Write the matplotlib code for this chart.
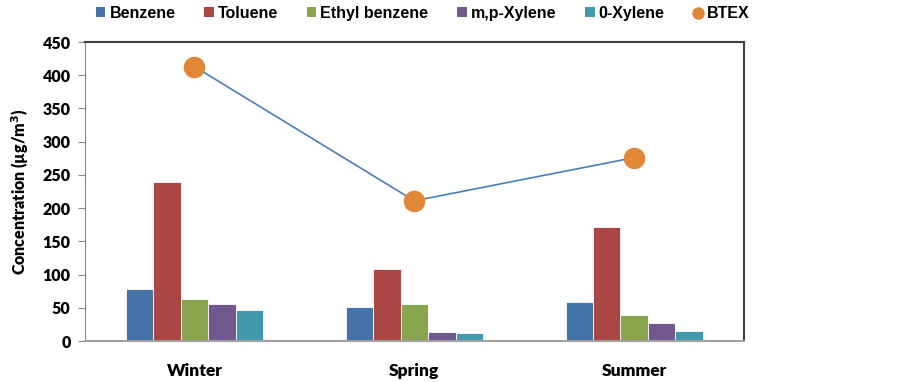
import numpy as np
import matplotlib
matplotlib.use('Agg')
import matplotlib.pyplot as plt
from matplotlib.lines import Line2D
from matplotlib.patches import Patch

seasons = ['Winter', 'Spring', 'Summer']
compounds = ['Benzene', 'Toluene', 'Ethyl benzene', 'm,p-Xylene', '0-Xylene']
benzene = [78.5, 51, 58]
toluene = [240, 109, 171]
ethyl_benzene = [62.5, 56, 39]
mp_xylene = [55, 14, 27.5]
o_xylene = [46.5, 11.5, 15.5]
btex = [413, 211, 276]

colors = ['#4572A7', '#AA4643', '#89A54E', '#71588F', '#4198AF']
plt.rcParams['font.family'] = ['Lato', 'DejaVu Sans']

fig = plt.figure(figsize=(9.03, 3.82), dpi=100)
ax = fig.add_axes([0.0936, 0.1073, 0.7305, 0.7827])

x = np.arange(len(seasons))
w = 0.125
series = [benzene, toluene, ethyl_benzene, mp_xylene, o_xylene]
for i, vals in enumerate(series):
    ax.bar(x + (i - 2) * w, vals, width=w, color=colors[i],
           edgecolor='white', linewidth=0.6, zorder=2)

ax.plot(x, btex, color='#4a7ebb', linewidth=1.2, zorder=3)
ax.plot(x, btex, 'o', color='#E08838', markersize=14.5, markeredgecolor='#E08838', zorder=4)

ax.set_xlim(-0.5, 2.5)
ax.set_ylim(0, 450)
ax.set_yticks(np.arange(0, 451, 50))
ax.set_xticks(x)
ax.set_xticklabels(seasons, fontsize=12.5, fontweight='heavy')
ax.tick_params(axis='x', length=0, pad=16)
ax.tick_params(axis='y', direction='out', length=5, color='#898989', labelsize=11.5, pad=5)
for lab in ax.get_yticklabels():
    lab.set_fontweight('heavy')
ax.set_ylabel('Concentration (µg/m$^\\mathbf{3}$)', fontsize=11.5, fontweight='heavy', labelpad=8)

ax.spines['left'].set_color('#898989')
ax.spines['bottom'].set_color('#a0a0a0')
ax.spines['bottom'].set_linewidth(1.5)
ax.spines['top'].set_color('#404040')
ax.spines['right'].set_color('#404040')
ax.spines['top'].set_linewidth(1.5)
ax.spines['right'].set_linewidth(1.5)

handles = [Patch(facecolor=c, label=n) for c, n in zip(colors, compounds)]
handles.append(Line2D([], [], marker='o', linestyle='none', color='#E08838',
                      markersize=8, label='BTEX'))
fig.legend(handles=handles, loc='center', bbox_to_anchor=(0.468, 0.965), ncol=6,
           frameon=False, handlelength=0.6, handleheight=0.6, handletextpad=0.25,
           columnspacing=1.8, prop={'family': ['Liberation Sans Narrow', 'Liberation Sans'],
                                    'weight': 'bold', 'size': 11.5})

fig.savefig('out.png', dpi=100)
